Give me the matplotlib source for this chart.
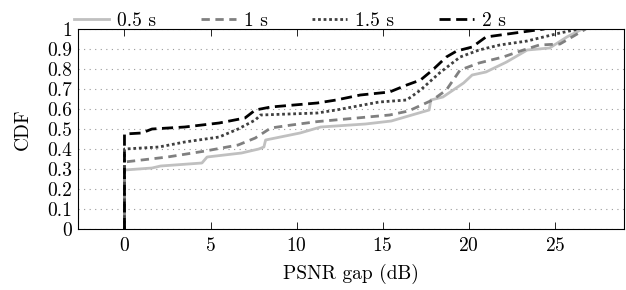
import numpy as np
import matplotlib
matplotlib.use("Agg")
import matplotlib.pyplot as plt

plt.rcParams['font.family'] = 'serif'
plt.rcParams['font.serif'] = ['cmr10']
plt.rcParams['mathtext.fontset'] = 'cm'
plt.rcParams['axes.formatter.use_mathtext'] = True

# PSNR gap (dB) vs CDF
gap_05 = [0, 0, 1.6, 2.1, 4.5, 4.8, 6.8, 7.8, 8.1, 8.2, 10.2, 11.4, 14.0, 15.5, 16.5, 17.7, 17.8,
          18.5, 19.1, 19.7, 20.2, 21.0, 21.6, 22.2, 23.4, 24.7, 25.7, 26.6]
cdf_05 = [0, 0.295, 0.305, 0.315, 0.33, 0.36, 0.38, 0.40, 0.41, 0.445, 0.48, 0.51, 0.525, 0.54, 0.565,
          0.595, 0.645, 0.66, 0.695, 0.73, 0.77, 0.785, 0.81, 0.835, 0.895, 0.905, 0.96, 1.0]

gap_1 = [0, 0, 2.5, 4.7, 6.6, 7.6, 8.5, 9.7, 11.2, 13.5, 15.4, 16.5, 17.9, 18.7, 19.5, 20.6, 22.0,
         23.0, 24.1, 25.3, 25.9, 26.8]
cdf_1 = [0, 0.335, 0.36, 0.39, 0.42, 0.455, 0.505, 0.52, 0.537, 0.555, 0.57, 0.59, 0.645, 0.695,
         0.795, 0.83, 0.86, 0.89, 0.92, 0.925, 0.955, 1.0]

gap_15 = [0, 0, 2.0, 3.5, 5.5, 6.6, 7.6, 7.9, 11.2, 12.3, 14.8, 16.4, 17.2, 18.3, 19.5, 20.6, 21.8,
          23.4, 24.1, 25.3, 26.4]
cdf_15 = [0, 0.40, 0.41, 0.435, 0.46, 0.50, 0.545, 0.57, 0.58, 0.595, 0.635, 0.645, 0.695, 0.78,
          0.86, 0.895, 0.92, 0.94, 0.955, 0.98, 1.0]

gap_2 = [0, 0, 1.0, 1.6, 3.5, 5.5, 7.0, 7.6, 8.5, 11.2, 12.3, 13.7, 15.4, 16.4, 17.2, 17.9, 18.7,
         19.3, 20.2, 21.0, 23.1, 24.4]
cdf_2 = [0, 0.475, 0.48, 0.50, 0.51, 0.53, 0.555, 0.595, 0.61, 0.63, 0.645, 0.67, 0.685, 0.72, 0.745,
         0.795, 0.86, 0.89, 0.91, 0.96, 0.985, 1.0]

labels = ['0.5 s', '1 s', '1.5 s', '2 s']

fig = plt.figure(figsize=(6.26, 2.9), dpi=100)
ax = fig.add_axes([0.1246, 0.2103, 0.873, 0.6897])

ax.plot(gap_05, cdf_05, color='#c0c0c0', lw=2.0, ls='-', label=labels[0])
ax.plot(gap_1, cdf_1, color='#808080', lw=2.0, ls=(0, (3, 2)), label=labels[1])
ax.plot(gap_15, cdf_15, color='#404040', lw=2.0, ls=(0, (1, 1)), label=labels[2])
ax.plot(gap_2, cdf_2, color='black', lw=2.0, ls=(0, (4, 2)), label=labels[3])

ax.set_xlim(-2.7, 29.05)
ax.set_ylim(0, 1)
ax.set_xticks([0, 5, 10, 15, 20, 25])
ax.set_yticks(np.arange(0, 1.01, 0.1))
ax.set_yticklabels(['0', '0.1', '0.2', '0.3', '0.4', '0.5', '0.6', '0.7', '0.8', '0.9', '1'])
ax.tick_params(axis='x', direction='in', top=True, length=5, width=0.6, labelsize=14, pad=6)
ax.tick_params(axis='y', direction='in', length=0, labelsize=14, pad=4)
ax.grid(axis='y', color='#999999', ls=(0, (1, 4)), lw=0.8)
for sp in ax.spines.values():
    sp.set_linewidth(0.8)

ax.set_xlabel('PSNR gap (dB)', fontsize=14, labelpad=6)
ax.set_ylabel('CDF', fontsize=14, labelpad=11)

ax.legend(loc='lower left', bbox_to_anchor=(-0.01, 0.985), ncol=4, frameon=False, fontsize=14,
          handlelength=1.8, columnspacing=2.3, handletextpad=0.4, borderaxespad=0.0, borderpad=0.1)

fig.savefig('out.png', dpi=100)
